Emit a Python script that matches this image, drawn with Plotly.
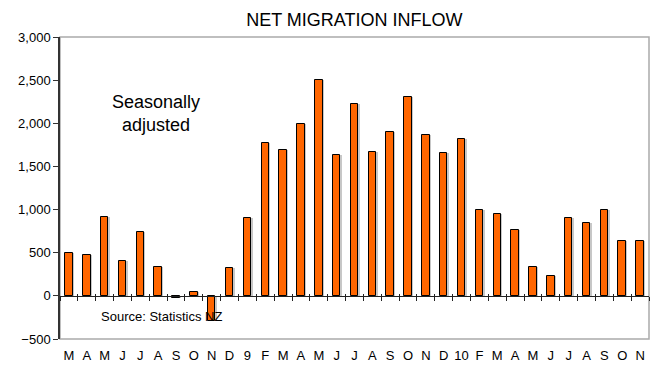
import plotly.graph_objects as go

# Monthly net migration inflow, seasonally adjusted
months = ["M", "A", "M", "J", "J", "A", "S", "O", "N", "D",
          "9", "F", "M", "A", "M", "J", "J", "A", "S", "O", "N", "D",
          "10", "F", "M", "A", "M", "J", "J", "A", "S", "O", "N"]
inflow = [500, 470, 910, 405, 740, 340, -20, 40, -290, 320,
          900, 1775, 1685, 1995, 2500, 1630, 2220, 1670, 1895, 2300, 1865, 1660,
          1820, 990, 950, 760, 340, 230, 900, 840, 1000, 640, 635]
y_ticks = [-500, 0, 500, 1000, 1500, 2000, 2500, 3000]

x = list(range(len(months)))
xr = [-0.5, len(months) - 0.5]
yr = [-500, 3000]
boundaries = [i + 0.5 for i in range(-1, len(months))]

FONT = "Liberation Sans, Arial, sans-serif"

fig = go.Figure()

# soft drop shadow behind each bar
fig.add_trace(go.Bar(
    x=x, y=inflow, width=0.42, offset=-0.21 + 0.08,
    marker=dict(color="rgba(130,130,130,0.45)", line=dict(width=0)),
    hoverinfo="skip", showlegend=False,
))
fig.add_trace(go.Bar(
    x=x, y=inflow, width=0.42, offset=-0.21,
    marker=dict(color="#FF6600", line=dict(color="black", width=1)),
    showlegend=False,
))

# helper traces for the zero-line tick axes
fig.add_trace(go.Scatter(x=[xr[0]], y=[0], xaxis="x2", mode="markers",
                         marker=dict(opacity=0), hoverinfo="skip", showlegend=False))
fig.add_trace(go.Scatter(x=[xr[0]], y=[0], xaxis="x3", mode="markers",
                         marker=dict(opacity=0), hoverinfo="skip", showlegend=False))

zero_pos = (0 - yr[0]) / (yr[1] - yr[0])

fig.update_layout(
    width=655, height=365,
    margin=dict(l=60, r=6, t=37, b=26),
    paper_bgcolor="white", plot_bgcolor="white",
    barmode="overlay", bargap=0,
    font=dict(family=FONT, color="black", size=13),
    title=dict(text="NET MIGRATION INFLOW", x=0.541, xanchor="center",
               y=0.945, yanchor="middle", font=dict(size=18, family=FONT)),
    xaxis=dict(
        range=xr, tickmode="array", tickvals=x, ticktext=months,
        showgrid=False, zeroline=False, showline=False, automargin=False,
        ticks="outside", ticklen=4, tickcolor="rgba(0,0,0,0)",
        tickfont=dict(size=13, family=FONT),
    ),
    xaxis2=dict(
        overlaying="x", anchor="free", position=zero_pos, range=xr,
        tickmode="array", tickvals=boundaries, showticklabels=False,
        ticks="outside", ticklen=4, tickcolor="#222", tickwidth=1,
        showline=True, linecolor="#222", linewidth=1,
        showgrid=False, zeroline=False,
    ),
    xaxis3=dict(
        overlaying="x", anchor="free", position=zero_pos, range=xr,
        tickmode="array", tickvals=boundaries, showticklabels=False,
        ticks="inside", ticklen=2, tickcolor="#222", tickwidth=1,
        showline=False, showgrid=False, zeroline=False,
    ),
    yaxis=dict(
        range=yr, tickmode="array", tickvals=y_ticks, tickformat=",",
        showgrid=False, zeroline=False, automargin=False,
        showline=True, linecolor="#333", linewidth=1.5,
        ticks="outside", ticklen=5, tickcolor="#333",
        tickfont=dict(size=13, family=FONT),
    ),
    shapes=[dict(type="rect", xref="paper", yref="paper", x0=0, x1=1, y0=0, y1=1,
                 line=dict(color="#AAAAAA", width=1.5), layer="below")],
    annotations=[
        dict(text="Seasonally<br>adjusted", x=4.9, y=2110, xref="x", yref="y",
             showarrow=False, font=dict(size=18, family=FONT), align="center"),
        dict(text="Source: Statistics NZ", x=5.2, y=-240, xref="x", yref="y",
             showarrow=False, font=dict(size=13, family=FONT)),
    ],
)

fig.write_html("out.html")
